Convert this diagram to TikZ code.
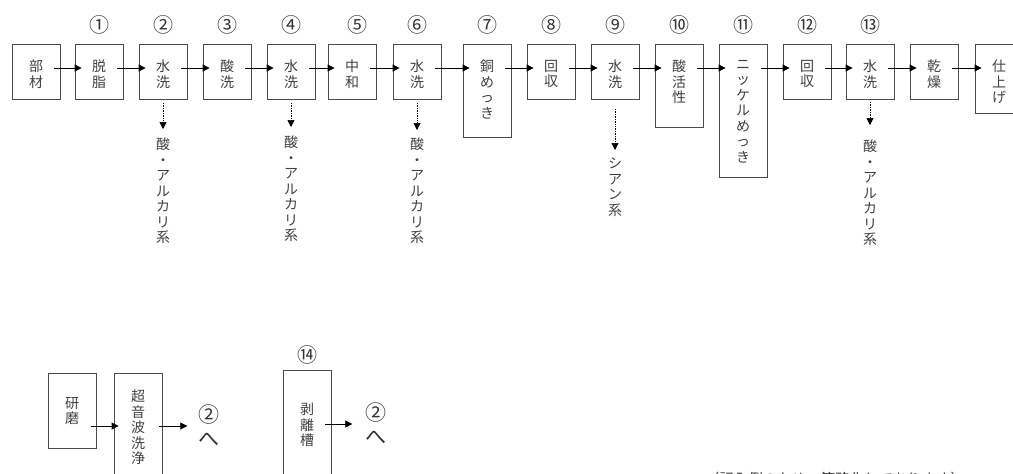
\documentclass[tikz,border=0pt]{standalone}
\usepackage{fontspec}
\newfontfamily\jp{Noto Sans CJK JP}
\usetikzlibrary{arrows.meta}

\tikzset{
  stage/.style={draw=black!70, line width=0.8pt, minimum width=48pt, minimum height=55pt, anchor=north, inner sep=0pt},
  intext/.style={anchor=north, yshift=-#1, align=center, inner sep=0pt, text=black!75, font=\jp\fontsize{14}{15.5}\selectfont},
  intext/.default=16pt,
  stepno/.style={anchor=center, yshift=19pt, inner sep=0pt, text=black!80, font=\jp\fontsize{20}{20}\selectfont},
  dest/.style={align=center, inner sep=0pt, text=black!80, font=\jp\fontsize{21}{24}\selectfont},
  note/.style={anchor=north, inner sep=0pt, text=black!80, font=\jp\fontsize{14.5}{15}\selectfont},
  flow/.style={-{Triangle[length=7pt,width=7pt]}, line width=0.8pt},
  drain/.style={densely dotted, -{Triangle[length=7pt,width=7pt]}, line width=0.7pt},
}

\begin{document}
\begin{tikzpicture}[x=1pt, y=-1pt]
        \clip (0,0) rectangle (1013,474);
        % main line
		\node[stage, label={[intext]north:部\\材}] (1) at (36,44) {};
		\node[stage, label={[intext]north:脱\\脂}, label={[stepno]north:①}] (2) at (99,44) {};
		\node[stage, label={[intext]north:水\\洗}, label={[stepno]north:②}] (3) at (163,44) {};
		\node[stage, label={[intext]north:酸\\洗}, label={[stepno]north:③}] (4) at (227,44) {};
		\node[stage, label={[intext]north:水\\洗}, label={[stepno]north:④}] (5) at (291,44) {};
		\node[stage, label={[intext]north:中\\和}, label={[stepno, xshift=5pt]north:⑤}] (6) at (352,44) {};
		\node[stage, label={[intext]north:水\\洗}, label={[stepno]north:⑥}] (7) at (417,44) {};
		\node[stage, minimum height=93pt, label={[intext]north:銅\\め\\っ\\き}, label={[stepno]north:⑦}] (8) at (487,44) {};
		\node[stage, label={[intext]north:回\\収}, label={[stepno]north:⑧}] (9) at (551,44) {};
		\node[stage, label={[intext]north:水\\洗}, label={[stepno]north:⑨}] (10) at (615,44) {};
		\node[stage, minimum height=83pt, label={[intext]north:酸\\活\\性}, label={[stepno]north:⑩}] (11) at (679,44) {};
		\node[stage, minimum height=133pt, label={[intext]north:ニ\\ッ\\ケ\\ル\\め\\っ\\き}, label={[stepno]north:⑪}] (12) at (743,44) {};
		\node[stage, label={[intext]north:回\\収}, label={[stepno]north:⑫}] (13) at (807,44) {};
		\node[stage, label={[intext]north:水\\洗}, label={[stepno]north:⑬}] (14) at (870,44) {};
		\node[stage, label={[intext]north:乾\\燥}] (15) at (934,44) {};
		\node[stage, minimum height=69pt, label={[intext]north:仕\\上\\げ}] (16) at (999,44) {};
		\draw[flow] ([shift={(-6,24)}]1.north east) -- ([shift={(7,24)}]2.north west);
		\draw[flow] ([shift={(-6,24)}]2.north east) -- ([shift={(7,24)}]3.north west);
		\draw[flow] ([shift={(-6,24)}]3.north east) -- ([shift={(7,24)}]4.north west);
		\draw[flow] ([shift={(-6,24)}]4.north east) -- ([shift={(7,24)}]5.north west);
		\draw[flow] ([shift={(-6,24)}]5.north east) -- ([shift={(7,24)}]6.north west);
		\draw[flow] ([shift={(-6,24)}]6.north east) -- ([shift={(7,24)}]7.north west);
		\draw[flow] ([shift={(-6,24)}]7.north east) -- ([shift={(7,24)}]8.north west);
		\draw[flow] ([shift={(-6,24)}]8.north east) -- ([shift={(7,24)}]9.north west);
		\draw[flow] ([shift={(-6,24)}]9.north east) -- ([shift={(7,24)}]10.north west);
		\draw[flow] ([shift={(-6,24)}]10.north east) -- ([shift={(7,24)}]11.north west);
		\draw[flow] ([shift={(-6,24)}]11.north east) -- ([shift={(7,24)}]12.north west);
		\draw[flow] ([shift={(-6,24)}]12.north east) -- ([shift={(7,24)}]13.north west);
		\draw[flow] ([shift={(-6,24)}]13.north east) -- ([shift={(7,24)}]14.north west);
		\draw[flow] ([shift={(-6,24)}]14.north east) -- ([shift={(7,24)}]15.north west);
		\draw[flow] ([shift={(-6,24)}]15.north east) -- ([shift={(7,24)}]16.north west);
        % waste water
		\coordinate (3d) at (163,129);
		\coordinate (5d) at (291,127);
		\coordinate (7d) at (417,130);
		\coordinate (10d) at (615,150);
		\coordinate (14d) at (870,125);
		\draw[drain] ([yshift=-3pt]3.south) -- (3d);
		\draw[drain] ([yshift=-3pt]5.south) -- (5d);
		\draw[drain] ([yshift=-3pt]7.south) -- (7d);
		\draw[drain] ([yshift=-9pt]10.south) -- (10d);
		\draw[drain] ([yshift=-2pt]14.south) -- (14d);
		\node[intext=0pt] (3w) at (163,138) {酸\\・\\ア\\ル\\カ\\リ\\系};
		\node[intext=0pt] (5w) at (291,136) {酸\\・\\ア\\ル\\カ\\リ\\系};
		\node[intext=0pt] (7w) at (417,138) {酸\\・\\ア\\ル\\カ\\リ\\系};
		\node[intext=0pt] (10w) at (615,158) {シ\\ア\\ン\\系};
		\node[intext=0pt] (14w) at (870,140) {酸\\・\\ア\\ル\\カ\\リ\\系};
        % side lines
		\node[stage, minimum height=75pt, label={[intext=24pt]north:研\\磨}] (17) at (72,373) {};
		\node[stage, minimum height=120pt, label={[intext=17pt]north:超\\音\\波\\洗\\浄}] (18) at (138,373) {};
		\node[stage, minimum height=120pt, label={[intext=33pt]north:剥\\離\\槽}, label={[stepno, yshift=-4pt]north:⑭}] (19) at (307,370) {};
		\node[dest] (20) at (209,426) {②\\へ};
		\node[dest] (21) at (376,424) {②\\へ};
		\draw[flow] ([shift={(-5,53)}]17.north east) -- ([shift={(5,53)}]18.north west);
		\draw[flow] ([shift={(-3,53)}]18.north east) -- ([xshift=-11pt]20.west);
		\draw[flow] ([shift={(-6,54)}]19.north east) -- ([xshift=-13pt]21.west);
		\node[note] (22) at (835,471.5) {（記入例のため、簡略化してあります）};
    \end{tikzpicture}
\end{document}
